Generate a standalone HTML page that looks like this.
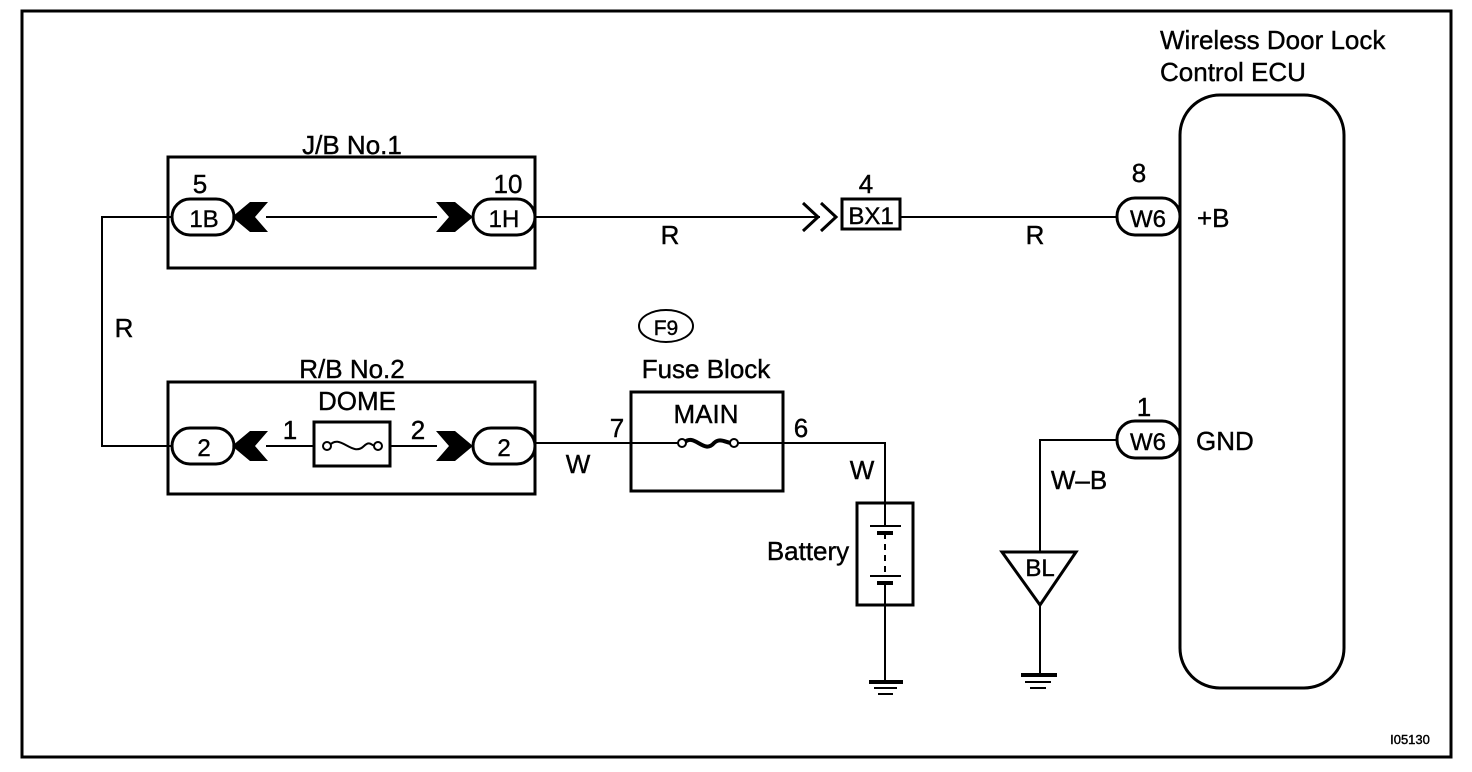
<!DOCTYPE html>
<html><head><meta charset="utf-8"><style>
html,body{margin:0;padding:0;background:#fff;}
svg{display:block;}
text{font-family:"Liberation Sans",Arial,sans-serif;fill:#000;stroke:#000;stroke-width:0.4;}
</style></head><body>
<svg width="1472" height="772" viewBox="0 0 1472 772" xmlns="http://www.w3.org/2000/svg">
<g fill="none" stroke="#000">
<rect x="22" y="11" width="1429" height="746" stroke-width="3"/>
<rect x="168" y="157" width="367" height="111" stroke-width="3"/>
<rect x="168" y="382" width="367" height="112" stroke-width="3"/>
<g stroke-width="2">
<polyline points="172,217 102,217 102,446 172,446"/>
<line x1="266" y1="217" x2="437" y2="217"/>
<line x1="535" y1="217" x2="820" y2="217"/>
<line x1="900" y1="217" x2="1116" y2="217"/>
<line x1="266" y1="446" x2="314" y2="446"/>
<line x1="390" y1="446" x2="437" y2="446"/>
<line x1="535" y1="443" x2="631" y2="443"/>
<line x1="631" y1="443" x2="680" y2="443"/>
<line x1="736" y1="443" x2="783" y2="443"/>
<polyline points="783,443 885,443 885,503"/>
<line x1="885" y1="605" x2="885" y2="680"/>
<polyline points="1116,440 1040,440 1040,552"/>
<line x1="1040" y1="605" x2="1040" y2="675"/>
</g>
<g stroke-width="3">
<rect x="172" y="199" width="62" height="36" rx="18"/>
<rect x="473" y="199" width="62" height="36" rx="18"/>
<rect x="172" y="428" width="62" height="36" rx="18"/>
<rect x="473" y="428" width="62" height="36" rx="18"/>
<rect x="1117" y="198" width="63" height="37" rx="18"/>
<rect x="1117" y="421" width="63" height="37" rx="18"/>
<rect x="314" y="422" width="76" height="44"/>
<rect x="631" y="392" width="152" height="99"/>
<rect x="857" y="503" width="56" height="102"/>
<rect x="842" y="199" width="58" height="30"/>
<rect x="1180" y="95" width="164" height="593" rx="40"/>
</g>
<polyline points="803,203 818,217 803,231" stroke-width="3"/>
<polyline points="821,203 836,217 821,231" stroke-width="3"/>
<path d="M329,446 C340,432 352,458 364,446 C370,440 372,446 375,446" stroke-width="2"/>
<circle cx="327" cy="446" r="4" stroke-width="2" fill="#fff"/>
<circle cx="378" cy="446" r="4" stroke-width="2" fill="#fff"/>
<path d="M684,443 C694,432 704,455 714,443 C720,437 726,443 732,443" stroke-width="4"/>
<circle cx="682" cy="443" r="4" stroke-width="2" fill="#fff"/>
<circle cx="734" cy="443" r="4" stroke-width="2" fill="#fff"/>
<g stroke-width="2">
<line x1="885" y1="503" x2="885" y2="526"/>
<line x1="870" y1="526" x2="901" y2="526"/>
<line x1="885" y1="533" x2="885" y2="576" stroke-dasharray="6,5"/>
<line x1="870" y1="576" x2="901" y2="576"/>
<line x1="885" y1="583" x2="885" y2="605"/>
</g>
<line x1="877" y1="533" x2="893" y2="533" stroke-width="4"/>
<line x1="877" y1="583" x2="893" y2="583" stroke-width="4"/>
<line x1="869" y1="682" x2="903" y2="682" stroke-width="4"/>
<line x1="874" y1="688" x2="897" y2="688" stroke-width="2"/>
<line x1="878" y1="694" x2="893" y2="694" stroke-width="2"/>
<line x1="1021" y1="675" x2="1057" y2="675" stroke-width="4"/>
<line x1="1025" y1="682" x2="1051" y2="682" stroke-width="2"/>
<line x1="1030" y1="688" x2="1046" y2="688" stroke-width="2"/>
<polygon points="1002,552 1076,552 1040,605" stroke-width="3"/>
<ellipse cx="666" cy="326" rx="27" ry="16" stroke-width="2"/>
</g>
<g fill="#000">
<polygon points="232,217 250,202 268,202 255,217 268,232 250,232"/>
<polygon points="232,446 250,431 268,431 255,446 268,461 250,461"/>
<polygon points="473,217 455,202 436,202 449,217 436,232 455,232"/>
<polygon points="473,446 455,431 436,431 449,446 436,461 455,461"/>
</g>
<g font-size="26">
<text x="352" y="154" text-anchor="middle">J/B No.1</text>
<text x="200" y="193" text-anchor="middle">5</text>
<text x="508" y="193" text-anchor="middle">10</text>
<text x="204" y="227" text-anchor="middle" font-size="24">1B</text>
<text x="504" y="227" text-anchor="middle" font-size="24">1H</text>
<text x="670" y="244" text-anchor="middle">R</text>
<text x="1035" y="244" text-anchor="middle">R</text>
<text x="124" y="337" text-anchor="middle">R</text>
<text x="866" y="193" text-anchor="middle">4</text>
<text x="871" y="224" text-anchor="middle" font-size="24">BX1</text>
<text x="1139" y="182" text-anchor="middle">8</text>
<text x="1148" y="227" text-anchor="middle" font-size="24">W6</text>
<text x="1197" y="227">+B</text>
<text x="1160" y="49">Wireless Door Lock</text>
<text x="1160" y="81">Control ECU</text>
<text x="352" y="378" text-anchor="middle">R/B No.2</text>
<text x="357" y="410" text-anchor="middle">DOME</text>
<text x="290" y="439" text-anchor="middle">1</text>
<text x="418" y="439" text-anchor="middle">2</text>
<text x="204" y="456" text-anchor="middle" font-size="24">2</text>
<text x="504" y="456" text-anchor="middle" font-size="24">2</text>
<text x="578" y="473" text-anchor="middle">W</text>
<text x="666" y="335" text-anchor="middle" font-size="21">F9</text>
<text x="706" y="378" text-anchor="middle">Fuse Block</text>
<text x="706" y="423" text-anchor="middle">MAIN</text>
<text x="617" y="437" text-anchor="middle">7</text>
<text x="801" y="437" text-anchor="middle">6</text>
<text x="862" y="479" text-anchor="middle">W</text>
<text x="808" y="560" text-anchor="middle">Battery</text>
<text x="1144" y="416" text-anchor="middle">1</text>
<text x="1148" y="450" text-anchor="middle" font-size="24">W6</text>
<text x="1196" y="450">GND</text>
<text x="1079" y="489" text-anchor="middle">W–B</text>
<text x="1040" y="576" text-anchor="middle" font-size="24">BL</text>
<text x="1410" y="744" text-anchor="middle" font-size="13">I05130</text>
</g>
</svg>
</body></html>
